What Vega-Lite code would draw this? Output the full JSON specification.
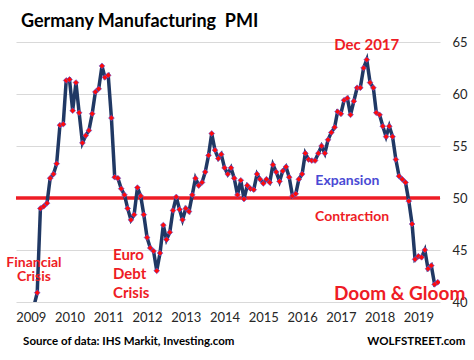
{
  "$schema": "https://vega.github.io/schema/vega-lite/v6.json",
  "width": 424,
  "height": 260,
  "autosize": {"type": "none"},
  "padding": {"left": 16, "top": 42, "right": 34, "bottom": 58},
  "background": "white",
  "title": {
    "text": "Germany Manufacturing\u00a0 PMI",
    "anchor": "start",
    "frame": "group",
    "dx": 5,
    "offset": 5,
    "font": "Lato",
    "fontSize": 18,
    "fontWeight": "bold",
    "color": "#000000"
  },
  "config": {
    "view": {"stroke": null},
    "axisY": {
      "orient": "right",
      "grid": true,
      "gridColor": "#d9d9d9",
      "gridWidth": 1,
      "domain": false,
      "ticks": false,
      "labelPadding": 12,
      "labelFont": "Lato",
      "labelFontSize": 13,
      "labelColor": "#262626"
    },
    "axisX": {
      "grid": false,
      "domain": false,
      "ticks": false,
      "labelPadding": 9,
      "labelFont": "Lato",
      "labelFontSize": 13,
      "labelColor": "#262626",
      "labelExpr": "utcFormat(datum.value, '%Y')"
    }
  },
  "layer": [
    {
      "data": {"values": [{"level": 50}]},
      "mark": {"type": "rule", "color": "#ee1c25", "strokeWidth": 3.5},
      "encoding": {
        "y": {"field": "level", "type": "quantitative", "title": null, "scale": {"domain": [40, 65], "nice": false, "zero": false}}
      }
    },
    {
      "data": {"name": "pmi"},
      "mark": {"type": "line", "color": "#203864", "strokeWidth": 3.5, "clip": true},
      "encoding": {
        "x": {
          "field": "date", "type": "temporal", "title": null,
          "scale": {"type": "utc", "domain": [{"year": 2008, "month": 11, "date": 13, "utc": true}, {"year": 2019, "month": 10, "date": 22, "utc": true}]},
          "axis": {
            "values": [
              {"year": 2009, "month": 4, "date": 1, "utc": true},
              {"year": 2010, "month": 4, "date": 1, "utc": true},
              {"year": 2011, "month": 4, "date": 1, "utc": true},
              {"year": 2012, "month": 4, "date": 1, "utc": true},
              {"year": 2013, "month": 4, "date": 1, "utc": true},
              {"year": 2014, "month": 4, "date": 1, "utc": true},
              {"year": 2015, "month": 4, "date": 1, "utc": true},
              {"year": 2016, "month": 4, "date": 1, "utc": true},
              {"year": 2017, "month": 4, "date": 1, "utc": true},
              {"year": 2018, "month": 4, "date": 1, "utc": true},
              {"year": 2019, "month": 4, "date": 1, "utc": true}
            ],
            "labelExpr": "utcFormat(datum.value, '%Y')"
          }
        },
        "y": {"field": "pmi", "type": "quantitative", "title": null, "scale": {"domain": [40, 65], "nice": false, "zero": false}, "axis": {"values": [40, 45, 50, 55, 60, 65]}}
      }
    },
    {
      "data": {"name": "pmi"},
      "mark": {"type": "point", "shape": "diamond", "filled": true, "fill": "#ff0a0a", "stroke": "#5a5ae0", "strokeWidth": 0.6, "size": 34, "opacity": 1, "clip": true},
      "encoding": {
        "x": {"field": "date", "type": "temporal", "title": null},
        "y": {"field": "pmi", "type": "quantitative", "title": null}
      }
    },
    {
      "data": {"values": [{"date": "2017-12-01", "pmi": 64.7, "label": "Dec 2017"}]},
      "mark": {"type": "text", "font": "Lato", "fontSize": 15, "fontWeight": "bold", "color": "#ee1c25", "align": "center", "baseline": "middle"},
      "encoding": {
        "x": {"field": "date", "type": "temporal", "title": null},
        "y": {"field": "pmi", "type": "quantitative", "title": null},
        "text": {"field": "label"}
      }
    },
    {
      "data": {"values": [{"date": "2017-06-01", "pmi": 51.6, "label": "Expansion"}]},
      "mark": {"type": "text", "font": "Lato", "fontSize": 14, "fontWeight": "bold", "color": "#4a4ad4", "align": "center", "baseline": "middle"},
      "encoding": {
        "x": {"field": "date", "type": "temporal", "title": null},
        "y": {"field": "pmi", "type": "quantitative", "title": null},
        "text": {"field": "label"}
      }
    },
    {
      "data": {"values": [{"date": "2017-07-16", "pmi": 48.15, "label": "Contraction"}]},
      "mark": {"type": "text", "font": "Lato", "fontSize": 14, "fontWeight": "bold", "color": "#ee1c25", "align": "center", "baseline": "middle"},
      "encoding": {
        "x": {"field": "date", "type": "temporal", "title": null},
        "y": {"field": "pmi", "type": "quantitative", "title": null},
        "text": {"field": "label"}
      }
    },
    {
      "data": {"values": [{"date": "2009-05-01", "pmi": 43.78, "label": "Financial\nCrisis"}]},
      "mark": {"type": "text", "font": "Lato", "fontSize": 14, "fontWeight": "bold", "color": "#ee1c25", "align": "center", "baseline": "middle", "lineBreak": "\n", "lineHeight": 14},
      "encoding": {
        "x": {"field": "date", "type": "temporal", "title": null},
        "y": {"field": "pmi", "type": "quantitative", "title": null},
        "text": {"field": "label"}
      }
    },
    {
      "data": {"values": [{"date": "2011-05-16", "pmi": 44.48, "label": "Euro\nDebt\nCrisis"}]},
      "mark": {"type": "text", "font": "Lato", "fontSize": 15, "fontWeight": "bold", "color": "#ee1c25", "align": "left", "baseline": "middle", "lineBreak": "\n", "lineHeight": 19},
      "encoding": {
        "x": {"field": "date", "type": "temporal", "title": null},
        "y": {"field": "pmi", "type": "quantitative", "title": null},
        "text": {"field": "label"}
      }
    },
    {
      "data": {"values": [{"date": "2018-10-07", "pmi": 40.8, "label": "Doom & Gloom"}]},
      "mark": {"type": "text", "font": "Lato", "fontSize": 19, "fontWeight": "bold", "color": "#ee1c25", "align": "center", "baseline": "middle"},
      "encoding": {
        "x": {"field": "date", "type": "temporal", "title": null},
        "y": {"field": "pmi", "type": "quantitative", "title": null},
        "text": {"field": "label"}
      }
    },
    {
      "data": {"values": [{"date": "2009-01-19", "pmi": 36.14, "label": "Source of data: IHS Markit, Investing.com"}]},
      "mark": {"type": "text", "font": "Lato", "fontSize": 11.5, "fontWeight": "bold", "color": "#000000", "align": "left", "baseline": "middle"},
      "encoding": {
        "x": {"field": "date", "type": "temporal", "title": null},
        "y": {"field": "pmi", "type": "quantitative", "title": null},
        "text": {"field": "label"}
      }
    },
    {
      "data": {"values": [{"date": "2019-03-13", "pmi": 36.14, "label": "WOLFSTREET.com"}]},
      "mark": {"type": "text", "font": "Lato", "fontSize": 11.5, "fontWeight": "bold", "color": "#000000", "align": "center", "baseline": "middle"},
      "encoding": {
        "x": {"field": "date", "type": "temporal", "title": null},
        "y": {"field": "pmi", "type": "quantitative", "title": null},
        "text": {"field": "label"}
      }
    }
  ],
  "datasets": {
    "pmi": [
      {"date": "2009-05-01", "pmi": 39.6},
      {"date": "2009-06-01", "pmi": 40.9},
      {"date": "2009-07-01", "pmi": 49.0},
      {"date": "2009-08-01", "pmi": 49.2},
      {"date": "2009-09-01", "pmi": 49.5},
      {"date": "2009-10-01", "pmi": 51.9},
      {"date": "2009-11-01", "pmi": 52.3},
      {"date": "2009-12-01", "pmi": 53.3},
      {"date": "2010-01-01", "pmi": 57.0},
      {"date": "2010-02-01", "pmi": 57.1},
      {"date": "2010-03-01", "pmi": 61.3},
      {"date": "2010-04-01", "pmi": 61.4},
      {"date": "2010-05-01", "pmi": 58.4},
      {"date": "2010-06-01", "pmi": 61.1},
      {"date": "2010-07-01", "pmi": 58.2},
      {"date": "2010-08-01", "pmi": 55.3},
      {"date": "2010-09-01", "pmi": 56.0},
      {"date": "2010-10-01", "pmi": 56.5},
      {"date": "2010-11-01", "pmi": 58.1},
      {"date": "2010-12-01", "pmi": 60.2},
      {"date": "2011-01-01", "pmi": 60.5},
      {"date": "2011-02-01", "pmi": 62.7},
      {"date": "2011-03-01", "pmi": 61.6},
      {"date": "2011-04-01", "pmi": 61.8},
      {"date": "2011-05-01", "pmi": 57.7},
      {"date": "2011-06-01", "pmi": 52.0},
      {"date": "2011-07-01", "pmi": 51.9},
      {"date": "2011-08-01", "pmi": 50.9},
      {"date": "2011-09-01", "pmi": 50.3},
      {"date": "2011-10-01", "pmi": 49.0},
      {"date": "2011-11-01", "pmi": 47.9},
      {"date": "2011-12-01", "pmi": 48.4},
      {"date": "2012-01-01", "pmi": 51.0},
      {"date": "2012-02-01", "pmi": 50.2},
      {"date": "2012-03-01", "pmi": 48.4},
      {"date": "2012-04-01", "pmi": 46.2},
      {"date": "2012-05-01", "pmi": 45.2},
      {"date": "2012-06-01", "pmi": 44.9},
      {"date": "2012-07-01", "pmi": 43.0},
      {"date": "2012-08-01", "pmi": 44.7},
      {"date": "2012-09-01", "pmi": 47.4},
      {"date": "2012-10-01", "pmi": 46.0},
      {"date": "2012-11-01", "pmi": 46.7},
      {"date": "2012-12-01", "pmi": 48.8},
      {"date": "2013-01-01", "pmi": 50.1},
      {"date": "2013-02-01", "pmi": 48.9},
      {"date": "2013-03-01", "pmi": 47.9},
      {"date": "2013-04-01", "pmi": 49.0},
      {"date": "2013-05-01", "pmi": 48.7},
      {"date": "2013-06-01", "pmi": 50.3},
      {"date": "2013-07-01", "pmi": 51.9},
      {"date": "2013-08-01", "pmi": 51.2},
      {"date": "2013-09-01", "pmi": 51.5},
      {"date": "2013-10-01", "pmi": 52.5},
      {"date": "2013-11-01", "pmi": 54.1},
      {"date": "2013-12-01", "pmi": 56.2},
      {"date": "2014-01-01", "pmi": 54.6},
      {"date": "2014-02-01", "pmi": 53.8},
      {"date": "2014-03-01", "pmi": 54.2},
      {"date": "2014-04-01", "pmi": 52.9},
      {"date": "2014-05-01", "pmi": 52.3},
      {"date": "2014-06-01", "pmi": 52.9},
      {"date": "2014-07-01", "pmi": 51.9},
      {"date": "2014-08-01", "pmi": 50.3},
      {"date": "2014-09-01", "pmi": 51.7},
      {"date": "2014-10-01", "pmi": 49.9},
      {"date": "2014-11-01", "pmi": 51.2},
      {"date": "2014-12-01", "pmi": 50.9},
      {"date": "2015-01-01", "pmi": 50.8},
      {"date": "2015-02-01", "pmi": 52.3},
      {"date": "2015-03-01", "pmi": 51.8},
      {"date": "2015-04-01", "pmi": 51.4},
      {"date": "2015-05-01", "pmi": 51.8},
      {"date": "2015-06-01", "pmi": 51.5},
      {"date": "2015-07-01", "pmi": 53.2},
      {"date": "2015-08-01", "pmi": 52.5},
      {"date": "2015-09-01", "pmi": 51.6},
      {"date": "2015-10-01", "pmi": 52.6},
      {"date": "2015-11-01", "pmi": 53.0},
      {"date": "2015-12-01", "pmi": 52.0},
      {"date": "2016-01-01", "pmi": 50.2},
      {"date": "2016-02-01", "pmi": 50.4},
      {"date": "2016-03-01", "pmi": 51.8},
      {"date": "2016-04-01", "pmi": 52.3},
      {"date": "2016-05-01", "pmi": 54.3},
      {"date": "2016-06-01", "pmi": 53.7},
      {"date": "2016-07-01", "pmi": 53.6},
      {"date": "2016-08-01", "pmi": 53.6},
      {"date": "2016-09-01", "pmi": 54.3},
      {"date": "2016-10-01", "pmi": 55.0},
      {"date": "2016-11-01", "pmi": 54.3},
      {"date": "2016-12-01", "pmi": 55.6},
      {"date": "2017-01-01", "pmi": 56.3},
      {"date": "2017-02-01", "pmi": 56.8},
      {"date": "2017-03-01", "pmi": 58.3},
      {"date": "2017-04-01", "pmi": 58.1},
      {"date": "2017-05-01", "pmi": 59.4},
      {"date": "2017-06-01", "pmi": 59.6},
      {"date": "2017-07-01", "pmi": 58.0},
      {"date": "2017-08-01", "pmi": 59.3},
      {"date": "2017-09-01", "pmi": 60.6},
      {"date": "2017-10-01", "pmi": 60.6},
      {"date": "2017-11-01", "pmi": 62.5},
      {"date": "2017-12-01", "pmi": 63.3},
      {"date": "2018-01-01", "pmi": 61.1},
      {"date": "2018-02-01", "pmi": 60.6},
      {"date": "2018-03-01", "pmi": 58.2},
      {"date": "2018-04-01", "pmi": 58.0},
      {"date": "2018-05-01", "pmi": 56.9},
      {"date": "2018-06-01", "pmi": 55.9},
      {"date": "2018-07-01", "pmi": 56.9},
      {"date": "2018-08-01", "pmi": 55.9},
      {"date": "2018-09-01", "pmi": 53.7},
      {"date": "2018-10-01", "pmi": 52.1},
      {"date": "2018-11-01", "pmi": 51.8},
      {"date": "2018-12-01", "pmi": 51.5},
      {"date": "2019-01-01", "pmi": 49.7},
      {"date": "2019-02-01", "pmi": 47.5},
      {"date": "2019-03-01", "pmi": 44.1},
      {"date": "2019-04-01", "pmi": 44.4},
      {"date": "2019-05-01", "pmi": 44.3},
      {"date": "2019-06-01", "pmi": 45.0},
      {"date": "2019-07-01", "pmi": 43.2},
      {"date": "2019-08-01", "pmi": 43.5},
      {"date": "2019-09-01", "pmi": 41.7},
      {"date": "2019-10-01", "pmi": 41.9}
    ]
  }
}
